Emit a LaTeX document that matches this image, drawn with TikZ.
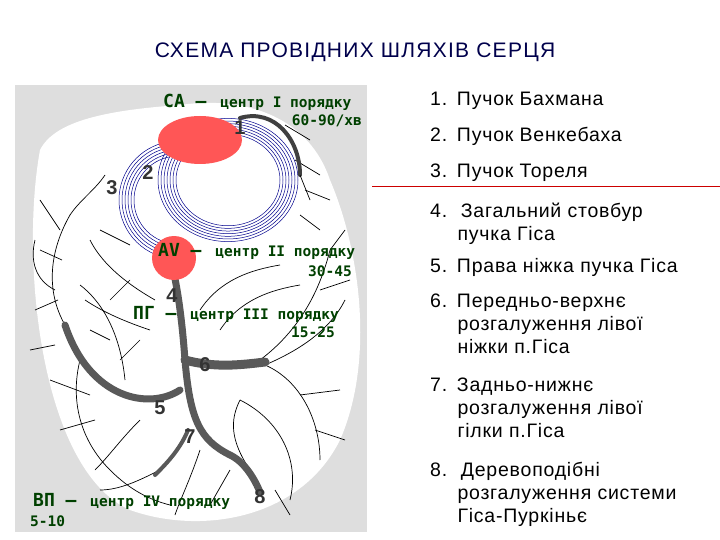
\documentclass[tikz,border=0pt]{standalone}
\usepackage{fontspec}
\setmainfont{Liberation Sans}
\newfontfamily\monob{DejaVu Sans Mono}
\begin{document}
\begin{tikzpicture}[x=1pt,y=-1pt,
  lbl/.style={text=green!25!black,font=\monob\bfseries\fontsize{14.5}{15}\selectfont,inner sep=0pt},
  num/.style={text=black!80,font=\bfseries\fontsize{20}{20}\selectfont,inner sep=0pt},
  item/.style={anchor=north west,align=left,font=\addfontfeatures{LetterSpace=4}\fontsize{19.5}{23}\selectfont,inner sep=0pt},
  bund/.style={draw=black!65,line cap=round,line join=round},
  tw/.style={draw=black,line width=0.7pt},
  ring/.style={draw=blue!55!black,line width=0.5pt}]
\useasboundingbox (0,0) rectangle (720,540);
\fill[white] (0,0) rectangle (720,540);
\node[text=blue!30!black,font=\addfontfeatures{LetterSpace=6}\fontsize{21}{23}\selectfont] (title) at (355,52) {СХЕМА ПРОВІДНИХ ШЛЯХІВ СЕРЦЯ};
% image background
\fill[black!13] (15,85) rectangle (367,532);
\fill[white] (40,150) .. controls (20,260) and (40,470) .. (130,510)
  .. controls (200,535) and (300,520) .. (340,440)
  .. controls (375,360) and (360,250) .. (330,180)
  .. controls (310,120) and (250,95) .. (180,105)
  .. controls (110,110) and (55,120) .. (40,150) -- cycle;
% Purkinje-like branches
\draw[tw] (65,325) .. controls (45,290) and (50,250) .. (70,215);
\draw[tw] (55,290) .. controls (35,280) and (30,260) .. (35,240);
\draw[tw] (70,215) .. controls (80,200) and (95,190) .. (105,175);
\draw[tw] (62,260) -- (40,250); \draw[tw] (58,300) -- (35,310);
\draw[tw] (80,360) .. controls (70,400) and (80,440) .. (110,470);
\draw[tw] (110,470) .. controls (130,490) and (150,500) .. (170,505);
\draw[tw] (95,420) -- (60,430); \draw[tw] (90,395) -- (50,380);
\draw[tw] (125,380) .. controls (120,330) and (100,300) .. (80,285);
\draw[tw] (110,340) -- (90,330); \draw[tw] (120,360) -- (140,340);
\draw[tw] (140,420) .. controls (120,440) and (110,455) .. (95,470);
\draw[tw] (160,470) .. controls (140,480) and (120,490) .. (100,490);
\draw[tw] (265,365) .. controls (300,380) and (320,420) .. (320,460);
\draw[tw] (265,365) .. controls (300,350) and (330,330) .. (345,300);
\draw[tw] (260,360) .. controls (300,330) and (320,290) .. (330,250);
\draw[tw] (330,250) -- (345,230); \draw[tw] (320,290) -- (350,280);
\draw[tw] (300,395) -- (340,390); \draw[tw] (315,430) -- (345,440);
\draw[tw] (240,400) .. controls (280,420) and (300,460) .. (290,500);
\draw[tw] (250,470) .. controls (230,440) and (230,420) .. (240,400);
\draw[tw] (220,330) .. controls (240,300) and (270,290) .. (300,285);
\draw[tw] (200,310) .. controls (220,280) and (250,270) .. (280,265);
\draw[tw] (155,300) .. controls (120,280) and (100,260) .. (90,240);
\draw[tw] (150,330) .. controls (120,320) and (100,310) .. (85,300);
\draw[tw] (200,450) .. controls (190,480) and (180,500) .. (175,515);
\draw[tw] (230,470) -- (210,505); \draw[tw] (275,490) -- (290,515);
\draw[tw] (300,215) -- (320,230); \draw[tw] (295,160) -- (320,175);
\draw[tw] (305,190) -- (330,200);
\draw[tw] (40,200) -- (60,230); \draw[tw] (30,350) -- (55,345);
\draw[tw] (100,230) -- (130,245); \draw[tw] (130,280) -- (110,300);
% bundles
\draw[bund,line width=7pt] (172,265) .. controls (178,290) and (182,320) .. (185,360);
\draw[bund,line width=9pt] (185,360) .. controls (215,368) and (240,365) .. (265,362);
\draw[bund,line width=7pt] (180,390) .. controls (150,410) and (90,400) .. (65,325);
\draw[bund,line width=7pt] (185,360) .. controls (190,420) and (200,440) .. (230,455)
  .. controls (245,462) and (255,480) .. (260,492);
\draw[bund,line width=4pt] (188,430) .. controls (180,450) and (165,465) .. (155,475);
% rings (bundle 2 and 1)
\foreach \r in {52,55,...,70} \draw[ring] (228,180) ellipse ({\r} and {\r*0.88});
\fill[white] (228,180) ellipse (50 and 44);
% bundle 1 dark arc
\draw[bund,line width=4pt,draw=black!75] (240,118) .. controls (275,108) and (300,140) .. (300,175);
\draw[tw] (300,175) -- (310,200); \draw[tw] (285,125) -- (310,140);
% bundle 3
\foreach \r in {44,47,...,59} \draw[ring] (178,200) ++(95:\r) arc (95:265:\r);
% nodes
\fill[red!55!pink] (200,140) ellipse (42 and 24);
\fill[red!55!pink] (174,258) circle (22);
% labels
\node[lbl,anchor=west] (sa) at (163,102) {\fontsize{18}{18}\selectfont СА –\, \fontsize{14.5}{15}\selectfont центр I порядку};
\node[lbl,anchor=east] (sar) at (362,121) {60-90/хв};
\node[num] (n1) at (240,128) {1};
\node[num] (n2) at (148,173) {2};
\node[num] (n3) at (112,188) {3};
\node[lbl,anchor=west] (av) at (158,251) {\fontsize{18}{18}\selectfont AV –\, \fontsize{14.5}{15}\selectfont центр II порядку};
\node[lbl,anchor=east] (avr) at (352,271) {30-45};
\node[num] (n4) at (172,296) {4};
\node[lbl,anchor=west] (pg) at (133,314) {\fontsize{18}{18}\selectfont ПГ –\, \fontsize{14.5}{15}\selectfont центр III порядку};
\node[lbl,anchor=east] (pgr) at (335,332) {15-25};
\node[num] (n6) at (205,365) {6};
\node[num] (n5) at (160,408) {5};
\node[num] (n7) at (190,437) {7};
\node[num] (n8) at (260,497) {8};
\node[lbl,anchor=west] (vp) at (33,501) {\fontsize{18}{18}\selectfont ВП –\, \fontsize{14.5}{15}\selectfont центр IV порядку};
\node[lbl,anchor=west] (vpr) at (30,521) {5-10};
% right list
\draw[red!80!black,line width=0.8pt] (372,186) -- (720,186);
\node[item] (i1) at (430,92) {1.\hspace{0.5em}Пучок Бахмана};
\node[item] (i2) at (430,127) {2.\hspace{0.5em}Пучок Венкебаха};
\node[item] (i3) at (430,164) {3.\hspace{0.5em}Пучок Тореля};
\node[item] (i4) at (430,203) {4.\hspace{0.7em}Загальний стовбур\\\hspace{1.4em}пучка Гіса};
\node[item] (i5) at (430,258) {5.\hspace{0.5em}Права ніжка пучка Гіса};
\node[item] (i6) at (430,294) {6.\hspace{0.5em}Передньо-верхнє\\\hspace{1.4em}розгалуження лівої\\\hspace{1.4em}ніжки п.Гіса};
\node[item] (i7) at (430,378) {7.\hspace{0.5em}Задньо-нижнє\\\hspace{1.4em}розгалуження лівої\\\hspace{1.4em}гілки п.Гіса};
\node[item] (i8) at (430,462) {8.\hspace{0.7em}Деревоподібні\\\hspace{1.4em}розгалуження системи\\\hspace{1.4em}Гіса-Пуркіньє};
\end{tikzpicture}
\end{document}
